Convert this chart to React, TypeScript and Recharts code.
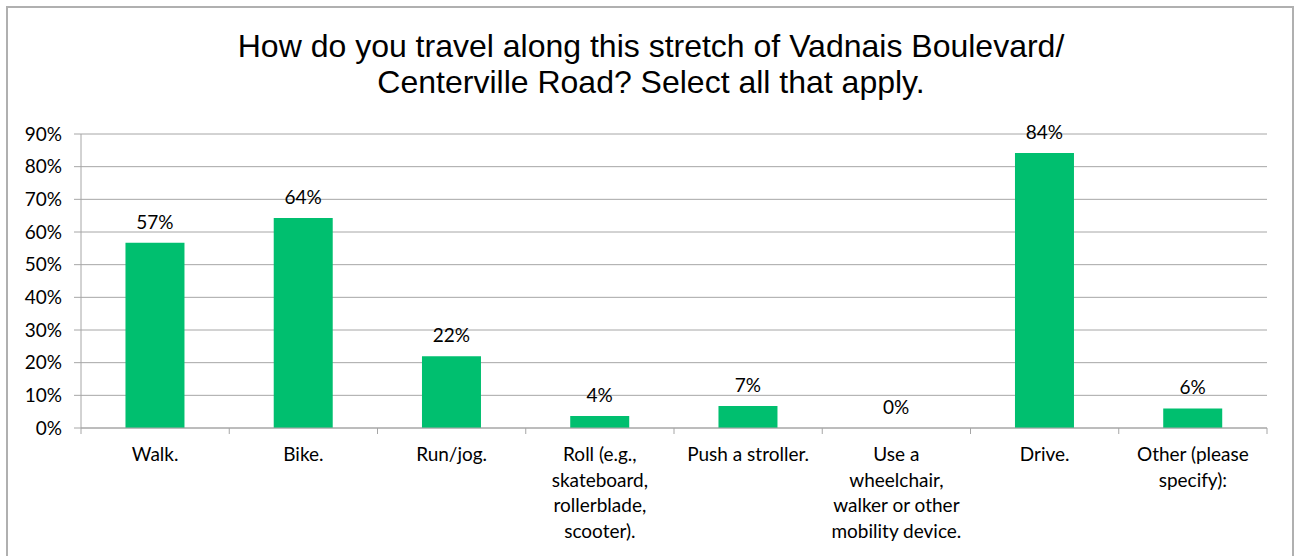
import React from "react";
import { BarChart, Bar, XAxis, YAxis, CartesianGrid, LabelList } from "recharts";

const categories = [
  "Walk.",
  "Bike.",
  "Run/jog.",
  "Roll (e.g., skateboard, rollerblade, scooter).",
  "Push a stroller.",
  "Use a wheelchair, walker or other mobility device.",
  "Drive.",
  "Other (please specify):",
];
const categoryLines = [
  ["Walk."],
  ["Bike."],
  ["Run/jog."],
  ["Roll (e.g.,", "skateboard,", "rollerblade,", "scooter)."],
  ["Push a stroller."],
  ["Use a", "wheelchair,", "walker or other", "mobility device."],
  ["Drive."],
  ["Other (please", "specify):"],
];
const values = [56.7, 64.3, 22.0, 3.7, 6.7, 0, 84.2, 6.0];
const valueLabels = ["57%", "64%", "22%", "4%", "7%", "0%", "84%", "6%"];
const yTicks = [0, 10, 20, 30, 40, 50, 60, 70, 80, 90];
const titleLines = [
  "How do you travel along this stretch of Vadnais Boulevard/",
  "Centerville Road? Select all that apply.",
];

const data = categories.map((c, i) => ({
  name: c,
  value: values[i],
  label: valueLabels[i],
}));

const FONT = "Lato, 'Noto Sans', sans-serif";
const FS = 19;
const GRAY = "#a6a6a6";

const CatTick = (props: any) => {
  const { x, y, payload, index, width, visibleTicksCount } = props;
  const idx = categories.indexOf(payload.value);
  const lines = categoryLines[idx] || [payload.value];
  const count = visibleTicksCount || categories.length;
  const band = width / count;
  return (
    <g>
      {index === 0 && (
        <line x1={x - band / 2} x2={x - band / 2} y1={y} y2={y + 6} stroke={GRAY} />
      )}
      <line x1={x + band / 2} x2={x + band / 2} y1={y} y2={y + 6} stroke={GRAY} />
      {lines.map((l, i) => (
        <text
          key={i}
          x={x}
          y={y + 33 + i * 25.5}
          textAnchor="middle"
          fontFamily={FONT}
          fontSize={FS}
          fill="#000"
        >
          {l}
        </text>
      ))}
    </g>
  );
};

export default function App() {
  return (
    <div
      style={{
        position: "absolute",
        left: 0,
        top: 0,
        width: 1297,
        height: 556,
        background: "#fff",
        overflow: "hidden",
      }}
    >
      <div
        style={{
          position: "absolute",
          left: 6,
          top: 6,
          width: 1284,
          height: 700,
          border: "2px solid #b0b0b0",
        }}
      />
      <div
        style={{
          position: "absolute",
          left: 0,
          top: 28,
          width: 1302,
          textAlign: "center",
          fontFamily: "'Liberation Sans', Arial, sans-serif",
          fontSize: 32,
          lineHeight: "36px",
          color: "#000",
        }}
      >
        {titleLines.map((t, i) => (
          <div key={i}>{t}</div>
        ))}
      </div>
      <div style={{ position: "absolute", left: 0, top: 0 }}>
        <BarChart
          width={1297}
          height={556}
          data={data}
          margin={{ top: 134, right: 30, left: 21, bottom: 8 }}
          barCategoryGap="30%"
        >
          <CartesianGrid vertical={false} stroke={GRAY} strokeWidth={1} />
          <XAxis
            dataKey="name"
            height={120}
            interval={0}
            axisLine={{ stroke: GRAY }}
            tickLine={false}
            tickSize={0}
            tickMargin={0}
            tick={<CatTick />}
          />
          <YAxis
            width={60}
            domain={[0, 90]}
            ticks={yTicks}
            interval={0}
            tickFormatter={(v: number) => `${v}%`}
            axisLine={{ stroke: GRAY }}
            tickLine={{ stroke: GRAY }}
            tickSize={7}
            tickMargin={12}
            tick={{ fontFamily: FONT, fontSize: FS, fill: "#000" }}
          />
          <Bar
            dataKey="value"
            fill="#00BF6F"
            isAnimationActive={false}
            minPointSize={(v: number) => (v === 0 ? 0.01 : 0)}
          >
            <LabelList
              dataKey="label"
              position="top"
              offset={14}
              style={{ fontFamily: FONT, fontSize: FS, fill: "#000" }}
            />
          </Bar>
        </BarChart>
      </div>
    </div>
  );
}
